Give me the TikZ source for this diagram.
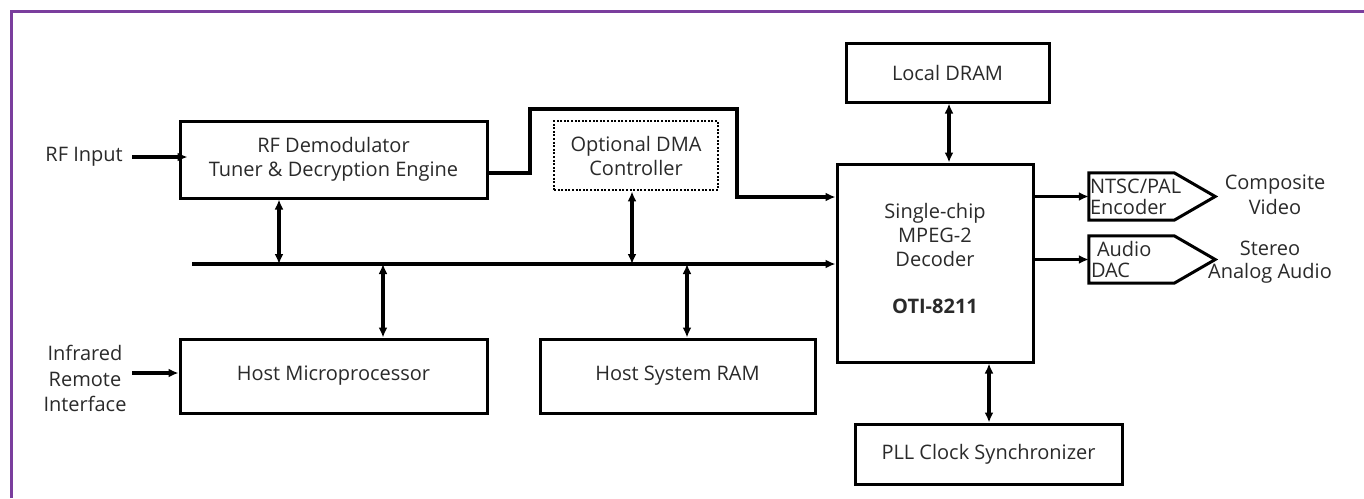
\documentclass[tikz,border=0pt]{standalone}
\usepackage{fontspec}
\setmainfont{Open Sans}
\usetikzlibrary{arrows.meta}
\definecolor{framec}{HTML}{7A3E9D}
\definecolor{txt}{HTML}{2A2A2A}
\begin{document}
\begin{tikzpicture}[x=1pt,y=-1pt,
  every node/.style={font=\fontsize{20}{24}\selectfont, text=txt},
  box/.style={draw, line width=3pt, inner sep=0pt, align=center},
  dotbox/.style={draw, line width=2.8pt, dash pattern=on 2pt off 1.6pt, inner sep=0pt, align=center},
  lbl/.style={align=center, inner sep=0pt},
  arr/.style={line width=3.2pt, -{Latex[length=10pt,width=9pt]}},
  darr/.style={line width=3.2pt, {Latex[length=10pt,width=9pt]}-{Latex[length=10pt,width=9pt]}},
  plain/.style={line width=3pt}]
\useasboundingbox (0,0) rectangle (1364,498);
\fill[white] (0,0) rectangle (1364,498);
\draw[framec, line width=3pt] (11.5,498) -- (11.5,11.5) -- (1364,11.5);

% boxes
\node[box, minimum width=307pt, minimum height=77pt] (rf) at (333.5,159.5) {RF Demodulator\\Tuner \& Decryption Engine};
\node[dotbox, minimum width=164pt, minimum height=69pt] (dma) at (636,155.5) {Optional DMA\\Controller};
\node[box, minimum width=203pt, minimum height=59pt] (dram) at (947.5,72.5) {Local DRAM};
\node[box, minimum width=196pt, minimum height=198pt] (dec) at (935,263) {};
\node[lbl] (dectext) at (935,258) {Single-chip\\MPEG-2\\Decoder\\[23pt]\textbf{OTI-8211}};
\node[box, minimum width=307pt, minimum height=74pt] (hmp) at (333.5,376) {Host Microprocessor};
\node[box, minimum width=275pt, minimum height=74pt] (ram) at (677.5,376) {Host System RAM};
\node[box, minimum width=267pt, minimum height=60pt] (pll) at (988.5,454) {PLL Clock Synchronizer};

% encoder / DAC pentagons
\node[inner sep=0pt, minimum width=85pt, minimum height=47pt] (enc) at (1131.5,196.5) {};
\draw[plain, line join=miter] (enc.north west) -- (enc.north east) -- ([xshift=41pt]enc.east) -- (enc.south east) -- (enc.south west) -- cycle;
\node[lbl, anchor=west, align=left, font=\fontsize{20}{21}\selectfont] (enctext) at ([xshift=1pt]enc.west) {NTSC/PAL\\Encoder};
\node[inner sep=0pt, minimum width=85pt, minimum height=47pt] (dac) at (1131.5,259.5) {};
\draw[plain, line join=miter] (dac.north west) -- (dac.north east) -- ([xshift=41pt]dac.east) -- (dac.south east) -- (dac.south west) -- cycle;
\node[lbl, anchor=west, align=left, font=\fontsize{20}{21}\selectfont] (dactext) at ([xshift=2pt]dac.west) {\hspace*{6pt}Audio\\DAC};

% outside labels
\node[lbl, anchor=east] (rfin) at (123,157) {RF Input};
\node[lbl, font=\fontsize{20}{25.5}\selectfont] (ir) at (85,378.5) {Infrared\\Remote\\Interface};
\node[lbl, font=\fontsize{20}{25}\selectfont] (cv) at (1275,195) {Composite\\Video};
\node[lbl, font=\fontsize{20}{23}\selectfont] (sa) at (1270,262) {Stereo\\Analog Audio};

% bus
\coordinate (busL) at (192,264);
\coordinate (b1) at (279,264);
\coordinate (b2) at (383,264);
\coordinate (b3) at (632,264);
\coordinate (b4) at (687,264);
\draw[arr] (busL) -- (busL -| dec.west);
\draw[darr] (rf.south -| b1) -- (b1);
\draw[darr] (b2) -- (hmp.north -| b2);
\draw[darr] (dma.south -| b3) -- (b3);
\draw[darr] (b4) -- (ram.north -| b4);

% other connectors
\draw[arr] ([xshift=9pt]rfin.east) -- ([xshift=9pt]rfin.east -| rf.west);
\coordinate (irs) at (132,373);
\draw[arr] (irs) -- (irs -| hmp.west);
\draw[arr, line join=miter] ([yshift=-13.5pt]rf.east) -| (530,109) -| (737,197) -- (737,197 -| dec.west);
\draw[darr] (dram.south -| 949,0) -- (dec.north -| 949,0);
\draw[darr] (dec.south -| 989,0) -- (pll.north -| 989,0);
\draw[arr] (dec.east |- enc.west) -- (enc.west);
\draw[arr] (dec.east |- dac.west) -- (dac.west);
\end{tikzpicture}
\end{document}
